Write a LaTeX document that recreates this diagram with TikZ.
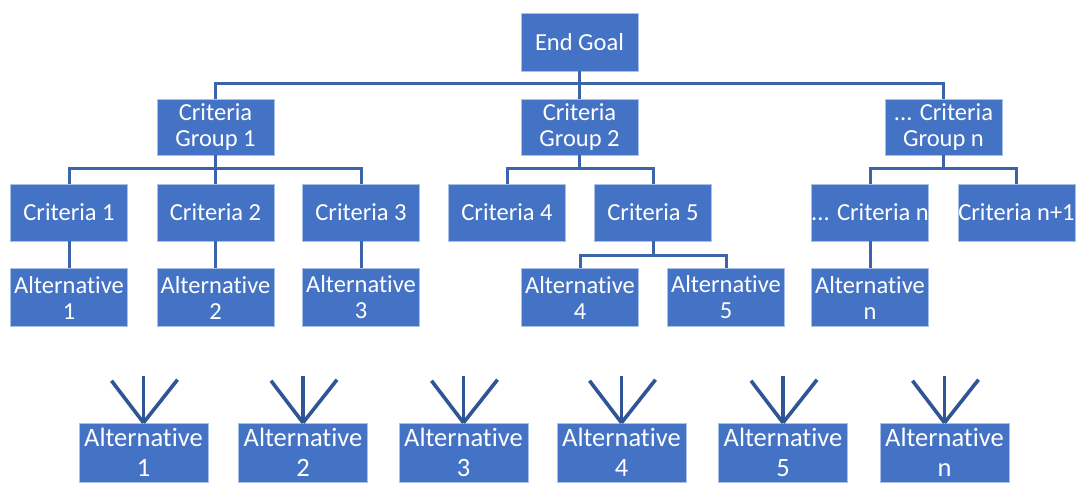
\documentclass[tikz,border=0pt]{standalone}
\usepackage{fontspec}
\setmainfont{Carlito}[Ligatures=CommonOff]
\definecolor{boxblue}{HTML}{4472C4}
\definecolor{lineblue}{HTML}{3C64AA}
\definecolor{arrowblue}{HTML}{2F5597}
\definecolor{edgeblue}{HTML}{A9C0E8}
\begin{document}
\begin{tikzpicture}[x=1pt,y=-1pt,
  box/.style={fill=boxblue, draw=edgeblue, line width=0.6pt, text=white, align=center,
    inner sep=0pt, minimum width=117pt, minimum height=57pt,
    font=\fontsize{24.5}{26}\selectfont},
  altbox/.style={box, minimum height=58pt},
  bigbox/.style={box, minimum width=129pt, minimum height=59pt,
    font=\fontsize{26.5}{30}\selectfont},
  conn/.style={draw=lineblue, line width=3pt},
  fan/.style={draw=arrowblue, line width=3.6pt}]
\useasboundingbox (0,0) rectangle (1078,482);

% top level
\node[box, minimum height=58pt] (goal) at (579.5,42) {End Goal};
\node[box, minimum height=56pt] (g1) at (215.5,127) {Criteria\\Group 1};
\node[box, minimum height=56pt] (g2) at (579.5,127) {Criteria\\Group 2};
\node[box, minimum height=56pt] (gn) at (943.5,127) {... Criteria\\Group n};

% criteria
\node[box] (c1) at (69,212.5) {Criteria 1};
\node[box] (c2) at (215.5,212.5) {Criteria 2};
\node[box] (c3) at (361,212.5) {Criteria 3};
\node[box] (c4) at (507,212.5) {Criteria 4};
\node[box] (c5) at (653,212.5) {Criteria 5};
\node[box] (cn) at (870,212.5) {\makebox[117pt][c]{... Criteria n}};
\node[box] (cn1) at (1016.5,212.5) {\makebox[117pt][c]{Criteria n+1}};

% alternatives
\node[altbox] (a1) at (69,297.5) {Alternative\\1};
\node[altbox] (a2) at (215.5,297.5) {Alternative\\2};
\node[altbox] (a3) at (361,297.5) {Alternative\\3};
\node[altbox] (a4) at (580,297.5) {Alternative\\4};
\node[altbox] (a5) at (726,297.5) {Alternative\\5};
\node[altbox] (an) at (870,297.5) {Alternative\\n};

% bottom alternatives
\node[bigbox] (b1) at (143.5,452.5) {Alternative\\1};
\node[bigbox] (b2) at (303,452.5) {Alternative\\2};
\node[bigbox] (b3) at (463.5,452.5) {Alternative\\3};
\node[bigbox] (b4) at (621.5,452.5) {Alternative\\4};
\node[bigbox] (b5) at (783,452.5) {Alternative\\5};
\node[bigbox] (bn) at (944.5,452.5) {Alternative\\n};

% bus coordinates
\coordinate (bus0) at (579.5,83);
\coordinate (bus1) at (215.5,168);
\coordinate (bus2) at (579.5,168);
\coordinate (bus3) at (943.5,168);
\coordinate (bus4) at (653,255);

% connectors
\draw[conn] (goal.south) -- (g2.north);
\draw[conn] (g1.north) |- (bus0) -| (gn.north);
\draw[conn] (g1.south) -- (c2.north);
\draw[conn] (c1.north) |- (bus1) -| (c3.north);
\draw[conn] (g2.south) -- (bus2);
\draw[conn] (c4.north) |- (bus2) -| (c5.north);
\draw[conn] (gn.south) -- (bus3);
\draw[conn] (cn.north) |- (bus3) -| (cn1.north);
\draw[conn] (c1.south) -- (a1.north);
\draw[conn] (c2.south) -- (a2.north);
\draw[conn] (c3.south) -- (a3.north);
\draw[conn] (c5.south) -- (bus4);
\draw[conn] (a4.north) |- (bus4) -| (a5.north);
\draw[conn] (cn.south) -- (an.north);

% fans above bottom boxes
\foreach \n in {b1,b2,b3,b4,b5,bn}{
  \draw[fan] (\n.north) -- ++(0,-47);
  \draw[fan] (\n.north) -- ++(-32,-42);
  \draw[fan] (\n.north) -- ++(34,-43);
}
\end{tikzpicture}
\end{document}
